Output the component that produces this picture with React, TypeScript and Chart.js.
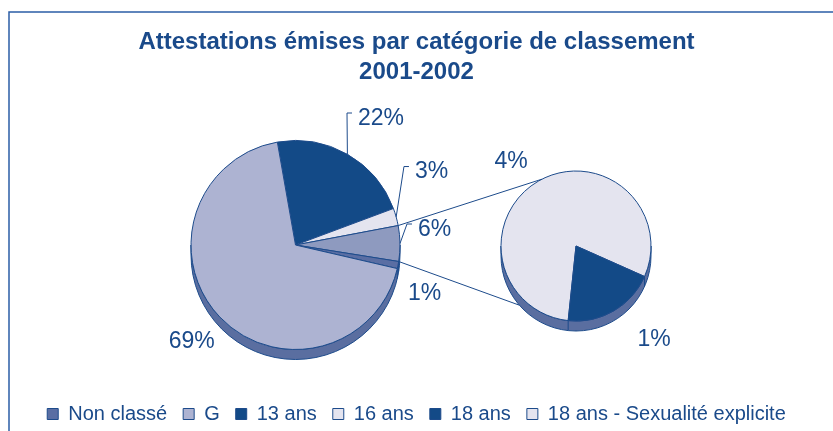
import React, { useEffect, useRef } from "react";
import { Chart, registerables } from "chart.js";

Chart.register(...registerables);

// ---------------- data ----------------
const TITLE_LINES = ["Attestations émises par catégorie de classement", "2001-2002"];

const LEGEND_CATEGORIES = ["Non classé", "G", "13 ans", "16 ans", "18 ans", "18 ans - Sexualité explicite"];

// main pie, clockwise from the top-left edge of "13 ans"
const MAIN_CATEGORIES = ["13 ans", "16 ans", "18 ans (ensemble)", "Non classé", "G"];
const MAIN_VALUES = [22.1, 2.7, 5.5, 1.1, 68.6];
const MAIN_LABELS = ["22%", "3%", "6%", "1%", "69%"];

// secondary pie (break-down of "18 ans (ensemble)")
const SUB_CATEGORIES = ["18 ans - Sexualité explicite", "18 ans"];
const SUB_VALUES = [4.4, 1.1];
const SUB_LABELS = ["4%", "1%"];

// ---------------- style ----------------
const FONT = "'Liberation Sans', Arial, Helvetica, sans-serif";
const TEXT = "#1a4a8a";
const OUTLINE = "#1d4b8b";
const SIDE = "#5a6ea0";
const FRAME = "#2b5ea6";
const DEPTH = 10;

const CATEGORY_COLORS: Record<string, string> = {
  "Non classé": "#5a6ea3",
  G: "#adb3d2",
  "13 ans": "#134a87",
  "16 ans": "#e4e4ef",
  "18 ans": "#134a87",
  "18 ans - Sexualité explicite": "#e4e4ef",
  "18 ans (ensemble)": "#8e9abf",
};

const AGGREGATE_INDEX = 2;

// label placement relative to the slice edge at its mid angle
const MAIN_LABEL_POS = [
  { dx: 10.6, dy: -35.8, leader: true },
  { dx: 18.8, dy: -44.9, leader: true },
  { dx: 18, dy: -14, leader: true },
  { dx: 10, dy: 28.5, leader: false },
  { dx: -51, dy: 24.6, leader: false },
];
const SUB_LABEL_POS = [
  { dx: -44, dy: -19, leader: false },
  { dx: 24, dy: 29, leader: false },
];
// connector end points on the secondary pie (degrees clockwise from top)
const SUB_CONNECT_TOP = 333;
const SUB_CONNECT_BOTTOM = 229;

const W = 833;
const H = 431;

function depthPlugin(id: string) {
  return {
    id,
    beforeDatasetsDraw(chart: any) {
      const arcs = chart.getDatasetMeta(0).data as any[];
      if (!arcs.length) return;
      const { x, y, outerRadius: r } = arcs[0];
      const ctx = chart.ctx as CanvasRenderingContext2D;
      ctx.save();
      ctx.beginPath();
      ctx.moveTo(x - r, y);
      ctx.lineTo(x - r, y + DEPTH);
      ctx.arc(x, y + DEPTH, r, Math.PI, 0, true);
      ctx.lineTo(x + r, y);
      ctx.arc(x, y, r, 0, Math.PI, false);
      ctx.closePath();
      ctx.fillStyle = SIDE;
      ctx.fill();
      ctx.strokeStyle = OUTLINE;
      ctx.lineWidth = 1;
      ctx.stroke();
      for (const a of arcs) {
        const s = a.startAngle;
        if (Math.sin(s) > 0.02) {
          const px = x + r * Math.cos(s);
          const py = y + r * Math.sin(s);
          ctx.beginPath();
          ctx.moveTo(px, py);
          ctx.lineTo(px, py + DEPTH);
          ctx.stroke();
        }
      }
      ctx.restore();
    },
  };
}

function labelPlugin(id: string, labels: string[], pos: { dx: number; dy: number; leader: boolean }[]) {
  return {
    id,
    afterDatasetsDraw(chart: any) {
      const ctx = chart.ctx as CanvasRenderingContext2D;
      const arcs = chart.getDatasetMeta(0).data as any[];
      ctx.save();
      ctx.font = `23px ${FONT}`;
      ctx.fillStyle = TEXT;
      ctx.strokeStyle = OUTLINE;
      ctx.lineWidth = 1;
      ctx.textAlign = "left";
      ctx.textBaseline = "middle";
      arcs.forEach((a, i) => {
        const mid = (a.startAngle + a.endAngle) / 2;
        const px = a.x + a.outerRadius * Math.cos(mid);
        const py = a.y + a.outerRadius * Math.sin(mid);
        const p = pos[i];
        const tx = px + p.dx;
        const ty = py + p.dy;
        if (p.leader) {
          ctx.beginPath();
          ctx.moveTo(px, py);
          ctx.lineTo(tx - 11, ty - 5.5);
          ctx.lineTo(tx - 6, ty - 5.5);
          ctx.stroke();
        }
        ctx.fillText(labels[i], tx, ty);
      });
      ctx.restore();
    },
  };
}

function connectorPlugin(getMain: () => Chart | null) {
  return {
    id: "connectors",
    beforeDatasetsDraw(chart: any) {
      const main = getMain();
      if (!main) return;
      const src = main.getDatasetMeta(0).data[AGGREGATE_INDEX] as any;
      const dst = chart.getDatasetMeta(0).data[0] as any;
      if (!src || !dst) return;
      const toRad = (deg: number) => ((deg - 90) * Math.PI) / 180;
      const s0x = src.x + src.outerRadius * Math.cos(src.startAngle);
      const s0y = src.y + src.outerRadius * Math.sin(src.startAngle);
      const s1x = src.x + src.outerRadius * Math.cos(src.endAngle);
      const s1y = src.y + src.outerRadius * Math.sin(src.endAngle);
      const t0x = dst.x + dst.outerRadius * Math.cos(toRad(SUB_CONNECT_TOP));
      const t0y = dst.y + dst.outerRadius * Math.sin(toRad(SUB_CONNECT_TOP));
      const t1x = dst.x + dst.outerRadius * Math.cos(toRad(SUB_CONNECT_BOTTOM));
      const t1y = dst.y + DEPTH + dst.outerRadius * Math.sin(toRad(SUB_CONNECT_BOTTOM));
      const ctx = chart.ctx as CanvasRenderingContext2D;
      ctx.save();
      ctx.strokeStyle = OUTLINE;
      ctx.lineWidth = 1;
      ctx.beginPath();
      ctx.moveTo(s0x, s0y);
      ctx.lineTo(t0x, t0y);
      ctx.moveTo(s1x, s1y);
      ctx.lineTo(t1x, t1y);
      ctx.stroke();
      ctx.restore();
    },
  };
}

const framePlugin = {
  id: "frame",
  beforeDraw(chart: any) {
    const ctx = chart.ctx as CanvasRenderingContext2D;
    ctx.save();
    ctx.strokeStyle = FRAME;
    ctx.lineWidth = 1.5;
    ctx.beginPath();
    ctx.moveTo(9, H + 5);
    ctx.lineTo(9, 12);
    ctx.lineTo(W + 5, 12);
    ctx.stroke();
    ctx.restore();
  },
};

export default function App() {
  const hostRef = useRef<HTMLCanvasElement>(null);
  const mainRef = useRef<HTMLCanvasElement>(null);
  const subRef = useRef<HTMLCanvasElement>(null);

  useEffect(() => {
    const host = new Chart(hostRef.current!, {
      type: "pie",
      data: { labels: LEGEND_CATEGORIES, datasets: [] },
      options: {
        responsive: false,
        animation: false,
        events: [],
        layout: { padding: { top: 0, bottom: -3, left: 0, right: 0 } },
        plugins: {
          title: {
            display: true,
            text: TITLE_LINES,
            color: TEXT,
            font: { family: FONT, size: 24, weight: "bold", lineHeight: 1.25 },
            padding: { top: 27, bottom: 0 },
          },
          legend: {
            display: true,
            position: "bottom",
            labels: {
              font: { family: FONT, size: 20 },
              color: TEXT,
              boxWidth: 11,
              boxHeight: 11,
              padding: 16,
              generateLabels: () =>
                LEGEND_CATEGORIES.map((text, i) => ({
                  text,
                  fillStyle: CATEGORY_COLORS[text],
                  strokeStyle: OUTLINE,
                  lineWidth: 1,
                  hidden: false,
                  index: i,
                  fontColor: TEXT,
                })),
            },
          },
          tooltip: { enabled: false },
        },
      } as any,
      plugins: [framePlugin],
    });

    const main = new Chart(mainRef.current!, {
      type: "pie",
      data: {
        labels: MAIN_CATEGORIES,
        datasets: [
          {
            data: MAIN_VALUES,
            backgroundColor: MAIN_CATEGORIES.map((c) => CATEGORY_COLORS[c]),
            borderColor: OUTLINE,
            borderWidth: 1,
            rotation: -10,
          },
        ],
      },
      options: {
        responsive: false,
        animation: false,
        events: [],
        layout: { padding: { left: 190.5, right: 432.5, top: 140, bottom: 81 } },
        plugins: { legend: { display: false }, title: { display: false }, tooltip: { enabled: false } },
      } as any,
      plugins: [depthPlugin("mainDepth"), labelPlugin("mainLabels", MAIN_LABELS, MAIN_LABEL_POS)],
    });

    const sub = new Chart(subRef.current!, {
      type: "pie",
      data: {
        labels: SUB_CATEGORIES,
        datasets: [
          {
            data: SUB_VALUES,
            backgroundColor: SUB_CATEGORIES.map((c) => CATEGORY_COLORS[c]),
            borderColor: OUTLINE,
            borderWidth: 1,
            rotation: 186,
          },
        ],
      },
      options: {
        responsive: false,
        animation: false,
        events: [],
        layout: { padding: { left: 500.5, right: 181.5, top: 170.5, bottom: 109.5 } },
        plugins: { legend: { display: false }, title: { display: false }, tooltip: { enabled: false } },
      } as any,
      plugins: [connectorPlugin(() => main), depthPlugin("subDepth"), labelPlugin("subLabels", SUB_LABELS, SUB_LABEL_POS)],
    });

    return () => {
      sub.destroy();
      main.destroy();
      host.destroy();
    };
  }, []);

  const layer: React.CSSProperties = { position: "absolute", left: 0, top: 0, width: W, height: H };
  return (
    <div style={{ position: "absolute", left: 0, top: 0, width: W, height: H, background: "#ffffff", overflow: "hidden" }}>
      <canvas ref={hostRef} width={W} height={H} style={layer} />
      <canvas ref={mainRef} width={W} height={H} style={layer} />
      <canvas ref={subRef} width={W} height={H} style={layer} />
    </div>
  );
}
